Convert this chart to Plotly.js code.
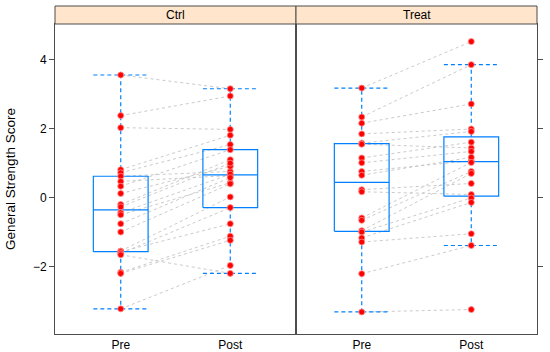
<!DOCTYPE html>
<html>
<head>
<meta charset="utf-8">
<script src="https://cdn.plot.ly/plotly-3.0.1.min.js"></script>
<style>html,body{margin:0;padding:0;background:#fff;}#chart{width:550px;height:352px;}</style>
</head>
<body>
<div id="chart"></div>
<script>
// ---- data ----
const groups = ["Ctrl", "Treat"];
const times = ["Pre", "Post"];
const yTickVals = [-2, 0, 2, 4];
// paired subjects: ctrlPre[i] -> ctrlPost[i]
const ctrlPre  = [3.56, 2.38, 2.03, 0.81, 0.72, 0.62, 0.47, 0.33, 0.12, -0.20, -0.27, -0.44, -0.50, -0.76, -1.00, -1.55, -1.57, -1.62, -1.66, -2.17, -2.20, -3.23];
const ctrlPost = [3.16, 2.95, 1.98, 1.81, 1.54, 0.76, 0.64, 1.39, 0.91, 1.10, 1.00, 0.68, 0.43, 0.58, 0.40, 0.02, -0.76, -0.29, -2.20, -1.12, -1.24, -1.97];
const treatPre  = [3.18, 2.34, 2.16, 1.85, 1.58, 1.55, 1.15, 1.01, 0.76, 0.65, 0.23, 0.17, -0.59, -0.66, -0.96, -1.00, -1.17, -1.29, -2.21, -3.32];
const treatPost = [4.53, 3.86, 2.72, 1.99, 1.92, 1.44, 1.61, 1.34, 1.07, 1.17, 0.41, 0.09, 1.02, 0.76, 0.70, -0.01, -0.14, -1.05, -1.39, -3.25];

// ---- helpers ----
function med(s) { const n = s.length; return n % 2 ? s[(n - 1) / 2] : (s[n / 2 - 1] + s[n / 2]) / 2; }
function stats(arr) {
  const s = arr.slice().sort((a, b) => a - b);
  const n = s.length;
  const m = med(s);
  const q1 = med(s.slice(0, Math.ceil(n / 2)));
  const q3 = med(s.slice(Math.floor(n / 2)));
  const iqr = q3 - q1;
  const lo = Math.min(...s.filter(v => v >= q1 - 1.5 * iqr));
  const hi = Math.max(...s.filter(v => v <= q3 + 1.5 * iqr));
  return {q1, m, q3, lo, hi};
}

const BLUE = "#0080ff";
const w = 0.25;
const traces = [];
const sets = [[ctrlPre, ctrlPost], [treatPre, treatPost]];
sets.forEach((pair, gi) => {
  const xa = gi === 0 ? "x" : "x2", ya = gi === 0 ? "y" : "y2";
  const pre = pair[0], post = pair[1];
  // connecting lines
  const lx = [], ly = [];
  pre.forEach((v, i) => { lx.push(1, 2, null); ly.push(v, post[i], null); });
  traces.push({type: "scatter", mode: "lines", x: lx, y: ly, xaxis: xa, yaxis: ya,
    line: {color: "#c4c4c4", width: 0.9, dash: "3px,3px"}, hoverinfo: "skip"});
  // boxes + whiskers
  const bx = [], by = [], wx = [], wy = [];
  pair.forEach((vals, k) => {
    const c = k + 1, st = stats(vals);
    bx.push(c - w, c + w, c + w, c - w, c - w, null, c - w, c + w, null);
    by.push(st.q1, st.q1, st.q3, st.q3, st.q1, null, st.m, st.m, null);
    wx.push(c, c, null, c, c, null, c - w, c + w, null, c - w, c + w, null);
    wy.push(st.q3, st.hi, null, st.q1, st.lo, null, st.hi, st.hi, null, st.lo, st.lo, null);
  });
  traces.push({type: "scatter", mode: "lines", x: wx, y: wy, xaxis: xa, yaxis: ya,
    line: {color: BLUE, width: 1.2, dash: "4px,3px"}, hoverinfo: "skip"});
  traces.push({type: "scatter", mode: "lines", x: bx, y: by, xaxis: xa, yaxis: ya,
    line: {color: BLUE, width: 1.2}, hoverinfo: "skip"});
  // points
  const px = [], py = [];
  pair.forEach((vals, k) => vals.forEach(v => { px.push(k + 1); py.push(v); }));
  traces.push({type: "scatter", mode: "markers", x: px, y: py, xaxis: xa, yaxis: ya,
    marker: {color: "#ff0000", size: 6, line: {color: "#ff8a8a", width: 0.8}}});
});

const font = {family: "Arial, 'Liberation Sans', sans-serif", size: 12, color: "#000"};
const LINE = "#4d4d4d";
const xBase = {range: [0.4, 2.6], tickvals: [1, 2], ticktext: times, ticks: "", showline: true, mirror: true,
  linecolor: LINE, linewidth: 1, showgrid: false, zeroline: false, tickfont: font, fixedrange: true};
const yBase = {range: [-3.96, 5.04], tickvals: yTickVals, ticks: "outside", ticklen: 5, tickcolor: LINE,
  showline: true, mirror: true, linecolor: LINE, linewidth: 1, showgrid: false, zeroline: false, tickfont: font};
const stripH = 18 / 310;
const layout = {
  width: 550, height: 352,
  margin: {l: 55, r: 13, t: 24, b: 18},
  paper_bgcolor: "#fff", plot_bgcolor: "#fff",
  showlegend: false, font: font,
  xaxis: Object.assign({}, xBase, {domain: [0, 0.5], anchor: "y"}),
  xaxis2: Object.assign({}, xBase, {domain: [0.5, 1], anchor: "y2"}),
  yaxis: Object.assign({}, yBase, {anchor: "x",
    title: {text: "General Strength Score", font: {family: font.family, size: 13.5, color: "#000"}, standoff: 14}}),
  yaxis2: Object.assign({}, yBase, {anchor: "x2", side: "right", showticklabels: false}),
  shapes: groups.map((g, i) => ({type: "rect", xref: "paper", yref: "paper", x0: i * 0.5, x1: i * 0.5 + 0.5,
    y0: 1, y1: 1 + stripH, fillcolor: "#ffe5cc", line: {color: LINE, width: 1}, layer: "above"})),
  annotations: groups.map((g, i) => ({text: g, xref: "paper", yref: "paper", x: i * 0.5 + 0.25, y: 1 + stripH / 2,
    showarrow: false, xanchor: "center", yanchor: "middle", font: font}))
};
Plotly.newPlot("chart", traces, layout, {displayModeBar: false, staticPlot: true});
</script>
</body>
</html>
